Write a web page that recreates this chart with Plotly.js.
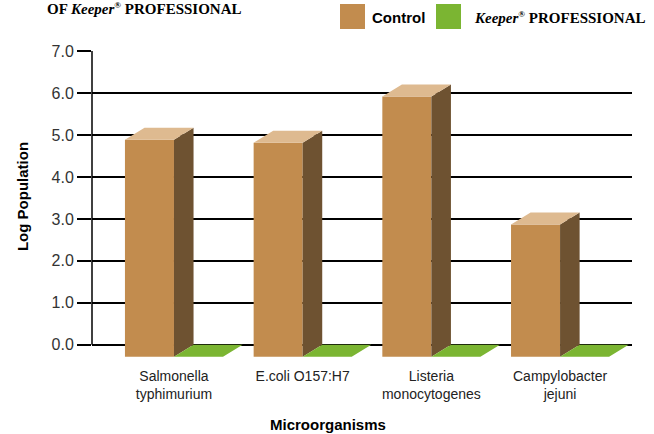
<!DOCTYPE html>
<html>
<head>
<meta charset="utf-8">
<script src="https://cdn.plot.ly/plotly-3.0.1.min.js"></script>
<style>html,body{margin:0;padding:0;background:#fff;}#chart{width:654px;height:434px;}</style>
</head>
<body>
<div id="chart"></div>
<script>
// ---- data ----
const categories = ['Salmonella<br>typhimurium', 'E.coli O157:H7', 'Listeria<br>monocytogenes', 'Campylobacter<br>jejuni'];
const controlValues = [5.17, 5.10, 6.20, 3.15];
const keeperValues = [0, 0, 0, 0];
const yTicks = [0, 1, 2, 3, 4, 5, 6, 7];

// ---- styling / 3D geometry ----
const W = 0.381;   // bar width (x units)
const DX = 0.152;  // depth offset x
const DY = 0.286;  // depth offset y
const SANS = '"Liberation Sans", Arial, Helvetica, sans-serif';
const SERIF = '"Liberation Serif", "Times New Roman", serif';
const REG = '<sup><span style="font-size:9px">®</span></sup>';

const xs = categories.map((c, i) => i);

function faces(values, off) {
  const side = {x: [], y: []}, top = {x: [], y: []};
  values.forEach((v, i) => {
    const xl = xs[i] + off, xr = xl + W;
    side.x.push(xr, xr + DX, xr + DX, xr, null);
    side.y.push(-DY, 0, v, v - DY, null);
    top.x.push(xl, xr, xr + DX, xl + DX, null);
    top.y.push(v - DY, v - DY, v, v, null);
  });
  return {side, top};
}

function series(values, off, cFront, cSide, cTop) {
  const f = faces(values, off);
  return [
    {type: 'bar', x: xs, y: values, base: values.map(() => -DY), offset: off, width: W,
     marker: {color: cFront, line: {width: 0}}, hoverinfo: 'skip', showlegend: false},
    {type: 'scatter', mode: 'lines', x: f.side.x, y: f.side.y, fill: 'toself', fillcolor: cSide,
     line: {width: 0, color: cSide}, hoverinfo: 'skip', showlegend: false},
    {type: 'scatter', mode: 'lines', x: f.top.x, y: f.top.y, fill: 'toself', fillcolor: cTop,
     line: {width: 0, color: cTop}, hoverinfo: 'skip', showlegend: false}
  ];
}

const traces = [].concat(
  series(controlValues, -W, '#C28C4E', '#6E5231', '#DEBA90'),
  series(keeperValues, 0, '#7BB532', '#5E8E25', '#7BB532')
);

const layout = {
  width: 654, height: 434,
  margin: {l: 92, r: 22, t: 51, b: 77},
  paper_bgcolor: '#fff', plot_bgcolor: '#fff',
  barmode: 'overlay',
  showlegend: false,
  xaxis: {
    range: [-0.637, 3.559], tickvals: xs, ticktext: categories,
    showgrid: false, zeroline: false, showline: false, ticks: '',
    ticklabelstandoff: 9,
    tickfont: {family: SANS, size: 14, color: '#222'}
  },
  yaxis: {
    range: [-0.29, 7], tickvals: yTicks, tickformat: '.1f',
    showgrid: true, gridcolor: '#000', gridwidth: 1.5,
    zeroline: false, showline: false,
    ticks: 'outside', ticklen: 14, tickwidth: 1.5, tickcolor: '#000',
    tickfont: {family: SANS, size: 16, color: '#333'}
  },
  shapes: [
    {type: 'line', xref: 'paper', yref: 'y', x0: 0, x1: 0, y0: 0, y1: 7, line: {color: '#000', width: 1.5}},
    {type: 'rect', xref: 'paper', yref: 'paper', x0: 0.4593, x1: 0.5056, y0: 1.0719, y1: 1.1536,
     fillcolor: '#C28C4E', line: {width: 0}},
    {type: 'rect', xref: 'paper', yref: 'paper', x0: 0.637, x1: 0.6833, y0: 1.0719, y1: 1.1536,
     fillcolor: '#7BB532', line: {width: 0}}
  ],
  annotations: [
    {text: '<b>Control</b>', xref: 'paper', yref: 'paper', x: 0.5148, y: 1.111, xanchor: 'left', yanchor: 'middle',
     showarrow: false, font: {family: SANS, size: 15, color: '#000'}},
    {text: '<b><i>Keeper</i>' + REG + ' PROFESSIONAL</b>', xref: 'paper', yref: 'paper', x: 0.7037, y: 1.111,
     xanchor: 'left', yanchor: 'middle', showarrow: false, font: {family: SERIF, size: 15, color: '#000'}},
    {text: '<b>OF <i>Keeper</i>' + REG + ' PROFESSIONAL</b>', xref: 'paper', yref: 'paper', x: -0.087, y: 1.1405,
     xanchor: 'left', yanchor: 'middle', showarrow: false, font: {family: SERIF, size: 15, color: '#000'}},
    {text: '<b>Log Population</b>', xref: 'paper', yref: 'y', x: -0.1296, y: 3.52, textangle: -90,
     xanchor: 'center', yanchor: 'middle', showarrow: false, font: {family: SANS, size: 15, color: '#000'}},
    {text: '<b>Microorganisms</b>', xref: 'paper', yref: 'paper', x: 0.437, y: -0.222,
     xanchor: 'center', yanchor: 'middle', showarrow: false, font: {family: SANS, size: 15, color: '#000'}}
  ]
};

Plotly.newPlot('chart', traces, layout, {staticPlot: true, displayModeBar: false});
</script>
</body>
</html>
